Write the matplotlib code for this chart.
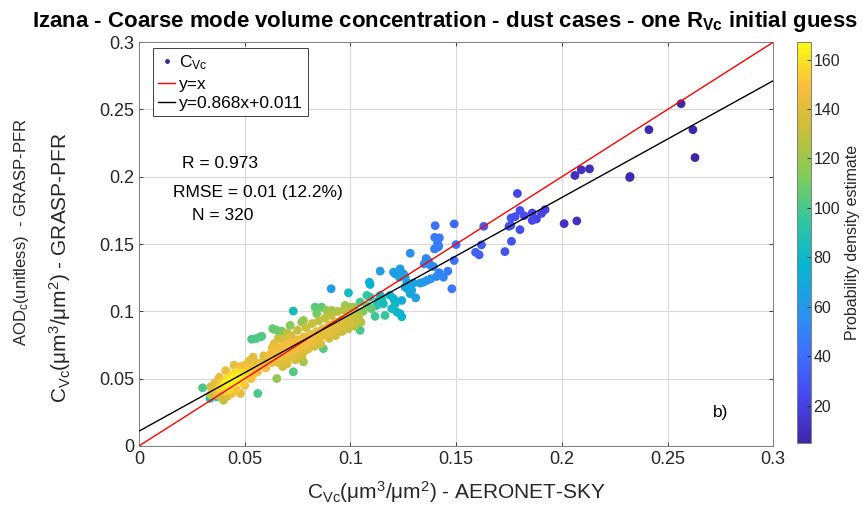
import numpy as np
import matplotlib
matplotlib.use("Agg")
import matplotlib.pyplot as plt
from matplotlib.colors import LinearSegmentedColormap
from matplotlib.lines import Line2D

plt.rcParams['font.family'] = ['Liberation Sans', 'DejaVu Sans']
plt.rcParams['mathtext.fontset'] = 'custom'
plt.rcParams['mathtext.rm'] = 'Liberation Sans'
plt.rcParams['mathtext.it'] = 'Liberation Sans:italic'
plt.rcParams['mathtext.bf'] = 'Liberation Sans:bold'

# --- data: AERONET (x), GRASP (y), density (colour) ---
# sparse high-concentration end
x_hi = [0.2564, 0.2412, 0.2620, 0.2630, 0.2321, 0.2323, 0.2062, 0.2092, 0.2131, 0.2011, 0.2071]
y_hi = [0.2543, 0.2350, 0.2350, 0.2143, 0.1995, 0.2002, 0.2010, 0.2052, 0.2059, 0.1652, 0.1672]
d_hi = [6, 7, 6, 5, 8, 8, 11, 11, 10, 12, 11]

# 0.16 - 0.19
x_mid = [0.1790, 0.1802, 0.1779, 0.1760, 0.1822, 0.1860, 0.1880, 0.1860, 0.1904, 0.1921,
         0.1750, 0.1759, 0.1802, 0.1762, 0.1731, 0.1631, 0.1620, 0.1592, 0.1609]
y_mid = [0.1876, 0.1750, 0.1704, 0.1694, 0.1711, 0.1731, 0.1686, 0.1676, 0.1728, 0.1756,
         0.1632, 0.1639, 0.1607, 0.1521, 0.1444, 0.1632, 0.1494, 0.1439, 0.1420]
d_mid = [22, 26, 27, 27, 25, 23, 22, 23, 21, 20,
         28, 28, 26, 27, 28, 32, 33, 34, 33]

# 0.14 - 0.15
x_b = [0.1491, 0.1401, 0.1500, 0.1491, 0.1480, 0.1399, 0.1421, 0.1412, 0.1418, 0.1398, 0.1412]
y_b = [0.1650, 0.1637, 0.1496, 0.1378, 0.1168, 0.1550, 0.1546, 0.1506, 0.1484, 0.1464, 0.1476]
d_b = [38, 42, 40, 42, 44, 46, 45, 47, 47, 48, 48]

# 0.12 - 0.14
x_lb = [0.1283, 0.1358, 0.1349, 0.1369, 0.1380, 0.1393, 0.1461, 0.1440, 0.1420, 0.1407,
        0.1380, 0.1362, 0.1345, 0.1330, 0.1298, 0.1275, 0.1270, 0.1283, 0.1309, 0.1259,
        0.1243, 0.1235, 0.1243, 0.0909, 0.1141, 0.1204, 0.1212, 0.1235, 0.1232, 0.1251,
        0.1267, 0.1290, 0.1259]
y_lb = [0.1432, 0.1393, 0.1353, 0.1373, 0.1341, 0.1333, 0.1299, 0.1254, 0.1287, 0.1259,
        0.1242, 0.1230, 0.1217, 0.1210, 0.1210, 0.1193, 0.1168, 0.1131, 0.1101, 0.1259,
        0.1279, 0.0983, 0.1081, 0.1168, 0.1299, 0.1291, 0.1279, 0.1316, 0.1254, 0.1279,
        0.1217, 0.1156, 0.1180]
d_lb = [55, 52, 54, 52, 52, 50, 47, 50, 51, 53,
        56, 58, 60, 62, 64, 66, 68, 68, 66, 62,
        62, 75, 72, 62, 62, 63, 64, 62, 66, 64,
        66, 68, 68]

# teal points
x_teal = [0.0336, 0.0368, 0.0375, 0.0730, 0.0991, 0.1090, 0.1093, 0.1141, 0.1149, 0.1133,
          0.1156, 0.1125, 0.1188, 0.1204, 0.1212, 0.1196, 0.1220, 0.1243]
y_teal = [0.0353, 0.0365, 0.0390, 0.1002, 0.1138, 0.1217, 0.1200, 0.1119, 0.1094, 0.1081,
          0.1057, 0.1044, 0.1119, 0.1094, 0.1057, 0.1020, 0.0995, 0.0960]
d_teal = [85, 88, 90, 85, 82, 75, 76, 82, 84, 86,
          85, 88, 78, 78, 80, 82, 80, 78]

# green / olive points
x_grn = [0.0533, 0.0554, 0.0573, 0.0581, 0.0633, 0.0652, 0.0675, 0.0715, 0.0778, 0.0770,
         0.0833, 0.0864, 0.0841, 0.0888, 0.0912, 0.0872, 0.1046, 0.0730, 0.0562, 0.0301,
         0.0652, 0.0778, 0.0975, 0.1014, 0.1038, 0.1060, 0.1080, 0.1100, 0.1164, 0.1117,
         0.1078, 0.1093, 0.1046]
y_grn = [0.0793, 0.0798, 0.0810, 0.0815, 0.0872, 0.0859, 0.0854, 0.0896, 0.0933, 0.0921,
         0.1032, 0.1032, 0.0983, 0.1007, 0.1007, 0.0723, 0.0859, 0.0551, 0.0390, 0.0432,
         0.0501, 0.0625, 0.1044, 0.1032, 0.0995, 0.1000, 0.1040, 0.1020, 0.0970, 0.0963,
         0.1119, 0.1106, 0.1069]
d_grn = [100, 101, 102, 102, 106, 108, 110, 114, 118, 117,
         104, 106, 110, 118, 122, 104, 100, 102, 100, 100,
         118, 120, 120, 118, 115, 112, 108, 105, 96, 98,
         95, 94, 100]

# yellow core
x_core = [0.038, 0.040, 0.041, 0.042, 0.043, 0.044, 0.045, 0.045, 0.046, 0.047,
          0.048, 0.049, 0.050, 0.042, 0.039, 0.046, 0.051, 0.052, 0.044, 0.047,
          0.041, 0.043, 0.037, 0.049, 0.053, 0.050, 0.055, 0.048]
y_core = [0.043, 0.045, 0.047, 0.044, 0.046, 0.049, 0.047, 0.051, 0.048, 0.052,
          0.050, 0.054, 0.052, 0.050, 0.047, 0.055, 0.056, 0.054, 0.053, 0.057,
          0.041, 0.042, 0.041, 0.047, 0.058, 0.060, 0.057, 0.059]
d_core = [155, 160, 162, 160, 164, 165, 165, 163, 164, 162,
          160, 158, 157, 158, 152, 157, 152, 153, 158, 150,
          155, 156, 148, 155, 148, 145, 147, 146]

# ring around the core
x_ring = [0.034, 0.035, 0.037, 0.039, 0.044, 0.046, 0.050, 0.053, 0.054, 0.056,
          0.057, 0.058, 0.055, 0.052, 0.045, 0.041, 0.038, 0.036, 0.034, 0.060,
          0.061, 0.059, 0.063, 0.054, 0.048, 0.042, 0.040]
y_ring = [0.038, 0.042, 0.038, 0.036, 0.039, 0.042, 0.045, 0.050, 0.053, 0.055,
          0.060, 0.062, 0.062, 0.063, 0.060, 0.056, 0.051, 0.047, 0.044, 0.058,
          0.064, 0.067, 0.062, 0.066, 0.039, 0.037, 0.034]
d_ring = [130, 138, 136, 135, 145, 150, 148, 150, 150, 148,
          146, 144, 142, 140, 140, 143, 142, 140, 134, 145,
          143, 140, 144, 138, 140, 138, 128]

# orange band 0.06 - 0.105
x_band = [0.062, 0.064, 0.065, 0.066, 0.067, 0.068, 0.069, 0.070, 0.071, 0.072,
          0.073, 0.074, 0.075, 0.076, 0.077, 0.078, 0.079, 0.080, 0.081, 0.082,
          0.083, 0.084, 0.085, 0.086, 0.087, 0.088, 0.089, 0.090, 0.091, 0.092,
          0.093, 0.094, 0.095, 0.096, 0.097, 0.098, 0.099, 0.100, 0.101, 0.102,
          0.103, 0.104]
y_band = [0.068, 0.066, 0.070, 0.073, 0.067, 0.071, 0.075, 0.069, 0.073, 0.077,
          0.071, 0.075, 0.079, 0.073, 0.077, 0.081, 0.075, 0.079, 0.083, 0.077,
          0.081, 0.085, 0.079, 0.083, 0.087, 0.082, 0.086, 0.090, 0.084, 0.088,
          0.092, 0.087, 0.091, 0.094, 0.089, 0.093, 0.096, 0.091, 0.095, 0.098,
          0.093, 0.097]
d_band = [146, 148, 148, 146, 147, 148, 145, 147, 148, 145,
          147, 147, 143, 146, 146, 142, 145, 145, 142, 144,
          144, 140, 142, 142, 139, 141, 141, 138, 140, 140,
          137, 139, 138, 135, 137, 135, 132, 134, 131, 128,
          130, 127]

# band spread above / below the 1:1 line
x_edge = [0.064, 0.066, 0.068, 0.070, 0.072, 0.075, 0.079, 0.082, 0.085, 0.088,
          0.091, 0.094, 0.097, 0.100, 0.063, 0.071, 0.066, 0.069, 0.072, 0.075,
          0.078, 0.074, 0.080, 0.083, 0.077, 0.086, 0.090, 0.093, 0.096, 0.099,
          0.102, 0.105, 0.068, 0.070]
y_edge = [0.076, 0.080, 0.079, 0.084, 0.082, 0.086, 0.088, 0.091, 0.093, 0.095,
          0.097, 0.100, 0.101, 0.103, 0.073, 0.080, 0.062, 0.064, 0.066, 0.068,
          0.070, 0.064, 0.072, 0.074, 0.066, 0.076, 0.080, 0.082, 0.085, 0.087,
          0.089, 0.092, 0.059, 0.061]
d_edge = [138, 132, 135, 128, 133, 130, 132, 131, 130, 130,
          129, 126, 125, 122, 142, 138, 140, 140, 140, 138,
          137, 134, 138, 136, 132, 135, 134, 133, 132, 130,
          127, 124, 134, 136]

aeronet = np.concatenate([x_hi, x_mid, x_b, x_lb, x_teal, x_grn, x_core, x_ring, x_band, x_edge])
grasp = np.concatenate([y_hi, y_mid, y_b, y_lb, y_teal, y_grn, y_core, y_ring, y_band, y_edge])
density = np.concatenate([d_hi, d_mid, d_b, d_lb, d_teal, d_grn, d_core, d_ring, d_band, d_edge])

slope, intercept = 0.868, 0.011
stats_r, stats_rmse, stats_rel, stats_n = 0.973, 0.01, 12.2, 320

# parula-like colormap
parula = LinearSegmentedColormap.from_list('parula', [
    (0.2422, 0.1504, 0.6603), (0.2803, 0.2782, 0.9221), (0.2440, 0.4358, 0.9988),
    (0.1540, 0.5902, 0.9218), (0.0297, 0.7082, 0.8163), (0.1938, 0.7758, 0.6251),
    (0.5044, 0.7993, 0.3480), (0.7800, 0.7500, 0.2300), (0.9800, 0.7400, 0.2400),
    (0.9769, 0.9839, 0.0805)])

order = np.argsort(density)

fig = plt.figure(figsize=(8.63, 5.21), dpi=100)
ax = fig.add_axes([0.161, 0.144, 0.735, 0.775])
cax = fig.add_axes([0.9235, 0.150, 0.0162, 0.769])

sc = ax.scatter(aeronet[order], grasp[order], c=density[order], cmap=parula,
                vmin=5, vmax=167, s=40, edgecolors='none', zorder=3)
xl = np.array([0, 0.3])
ax.plot(xl, xl, color='red', lw=1, zorder=4)
ax.plot(xl, slope * xl + intercept, color='black', lw=1, zorder=4)

ax.set_xlim(0, 0.3)
ax.set_ylim(0, 0.3)
ticks = np.arange(0, 0.301, 0.05)
ax.set_xticks(ticks)
ax.set_yticks(ticks)
ax.set_xticklabels([f'{t:g}' for t in ticks])
ax.set_yticklabels([f'{t:g}' for t in ticks])
ax.tick_params(labelsize=13, colors='#262626', direction='in', length=3,
               top=True, right=True, width=0.6)
ax.grid(True, color='#d9d9d9', lw=0.8, zorder=0)
ax.set_axisbelow(True)
for s in ax.spines.values():
    s.set_color('#7f7f7f')
    s.set_linewidth(0.7)

handles = [Line2D([], [], marker='o', ls='none', markersize=2.5, color='#3e26a8'),
           Line2D([], [], color='red', lw=1),
           Line2D([], [], color='black', lw=1)]
leg = ax.legend(handles, [r'C$_{\mathrm{Vc}}$', 'y=x', f'y={slope}x+{intercept}'],
                loc='upper left', bbox_to_anchor=(0.022, 0.985), fontsize=12.5,
                handlelength=1.0, handletextpad=0.2, borderpad=0.3,
                labelspacing=0.25, fancybox=False, framealpha=1, borderaxespad=0)
leg.get_frame().set_edgecolor('#404040')
leg.get_frame().set_linewidth(0.7)

ax.text(0.068, 0.70, f'R = {stats_r}', transform=ax.transAxes, fontsize=12.5, va='center')
ax.text(0.054, 0.629, f'RMSE = {stats_rmse} ({stats_rel}%)', transform=ax.transAxes,
        fontsize=12.5, va='center')
ax.text(0.084, 0.572, f'N = {stats_n}', transform=ax.transAxes, fontsize=12.5, va='center')
ax.text(0.905, 0.084, 'b)', transform=ax.transAxes, fontsize=12.5, va='center')

ax.set_xlabel(r'C$_{\mathrm{Vc}}$(μm$^3$/μm$^2$) - AERONET-SKY', fontsize=15,
              color='#262626', labelpad=8)
fig.text(60 / 863, 1 - 268 / 521, r'C$_{\mathrm{Vc}}$(μm$^3$/μm$^2$) - GRASP-PFR',
         rotation=90, ha='center', va='center', fontsize=15, color='#262626')
fig.text(22 / 863, 1 - 232 / 521, r'AOD$_{\mathrm{c}}$(unitless)  - GRASP-PFR',
         rotation=90, ha='center', va='center', fontsize=12, color='#262626')
fig.text(445 / 863, 1 - 22 / 521,
         r'Izana - Coarse mode volume concentration - dust cases - one R$_{\mathbf{Vc}}$ initial guess',
         ha='center', va='center', fontsize=16, fontweight='bold')

cb = fig.colorbar(sc, cax=cax)
cb.set_ticks(np.arange(20, 161, 20))
cb.ax.tick_params(labelsize=11.5, colors='#262626', direction='in', length=3, width=0.6, pad=2)
cb.outline.set_edgecolor('#7f7f7f')
cb.outline.set_linewidth(0.7)
cb.set_label('Probability density estimate', fontsize=11.5, color='#262626', labelpad=3)

fig.savefig('out.png', dpi=100)
